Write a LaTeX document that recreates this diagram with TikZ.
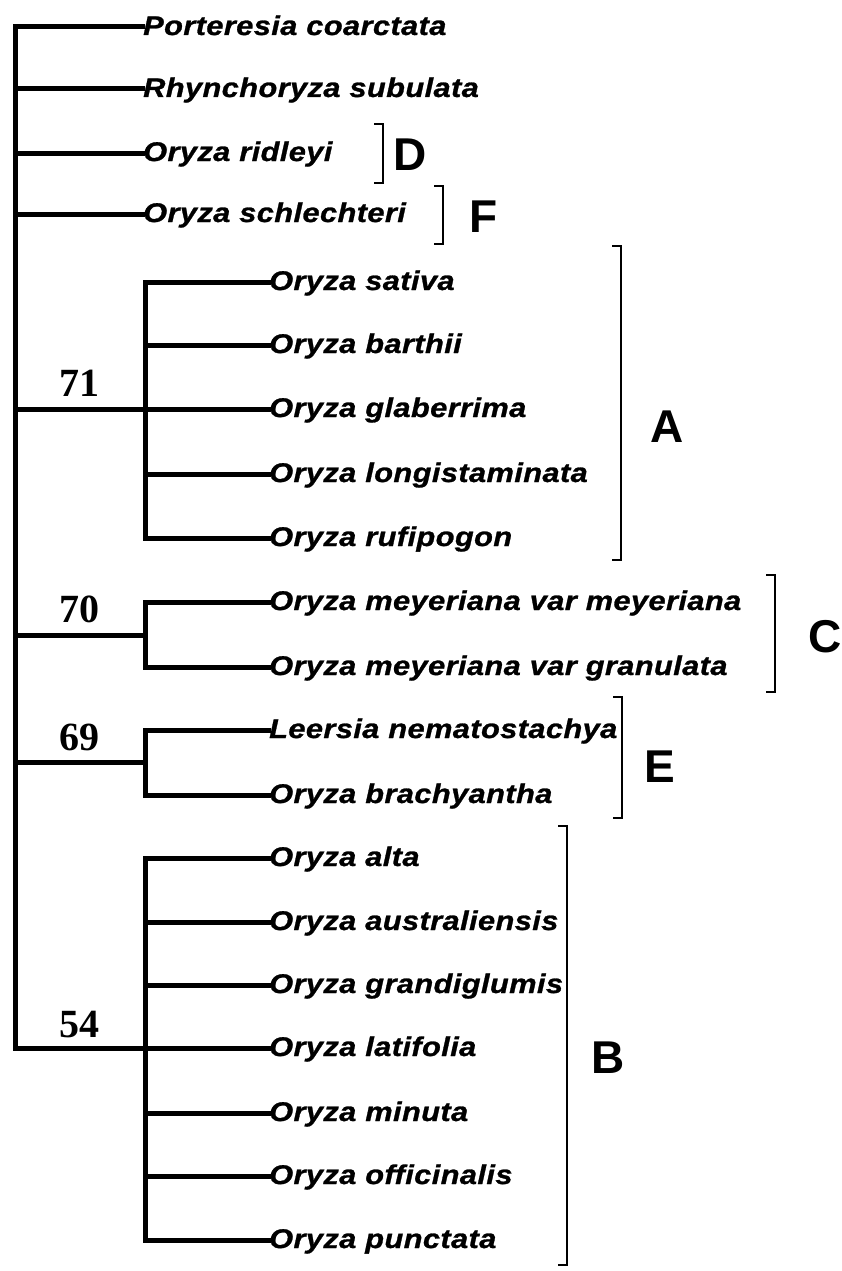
\documentclass[tikz,border=0pt]{standalone}
\usepackage{fontspec}
\setmainfont{Liberation Sans}
\newfontfamily\numfont{Liberation Serif}
\newfontfamily\leaffont{Liberation Sans}[FakeStretch=1.14,LetterSpace=1.5,FakeBold=1]
\begin{document}
\begin{tikzpicture}[x=1pt,y=-1pt,
  tree/.style={line width=5pt,line cap=rect,line join=miter},
  brk/.style={line width=2.8pt,line join=miter},
  leaf/.style={anchor=base west,inner sep=0pt,font=\leaffont\fontsize{27}{27}\selectfont\bfseries\itshape},
  boot/.style={anchor=base,inner sep=0pt,font=\fontsize{40}{40}\selectfont\numfont\bfseries},
  grp/.style={anchor=center,inner sep=0pt,font=\fontsize{46}{46}\selectfont\bfseries}]
\useasboundingbox (0,0) rectangle (841,1271);
% leaves
\foreach \n/\y/\t in {
 1/27/Porteresia coarctata,
 2/89/Rhynchoryza subulata,
 3/153/Oryza ridleyi,
 4/214/Oryza schlechteri,
 5/282/Oryza sativa,
 6/345/Oryza barthii,
 7/409/Oryza glaberrima,
 8/474/Oryza longistaminata,
 9/538/Oryza rufipogon,
 10/602/Oryza meyeriana var meyeriana,
 11/667/Oryza meyeriana var granulata,
 12/730/Leersia nematostachya,
 13/795/Oryza brachyantha,
 14/858/Oryza alta,
 15/922/Oryza australiensis,
 16/985/Oryza grandiglumis,
 17/1048/Oryza latifolia,
 18/1113/Oryza minuta,
 19/1176/Oryza officinalis,
 20/1240/Oryza punctata}{
 \ifnum\n<5 \coordinate (t\n) at (142,\y); \else \coordinate (t\n) at (268,\y); \fi
 \node[leaf] (l\n) at ([shift={(1,8)}]t\n) {\t};
}
% internal nodes
\coordinate (roottop) at (15,27);
\coordinate (root) at (15,1048);
\coordinate (nA) at (145,409);
\coordinate (nC) at (145,635);
\coordinate (nE) at (145,762);
\coordinate (nB) at (145,1048);
% root
\draw[tree] (t1) -- (roottop) -- (root) -- (nB);
\foreach \k in {2,3,4}{\draw[tree] (roottop |- t\k) -- (t\k);}
\draw[tree] (root |- nA) -- (nA);
\draw[tree] (root |- nC) -- (nC);
\draw[tree] (root |- nE) -- (nE);
% clade A
\draw[tree] (t5) -- (nA |- t5) -- (nA |- t9) -- (t9);
\foreach \k in {6,7,8}{\draw[tree] (nA |- t\k) -- (t\k);}
% clade C
\draw[tree] (t10) -- (nC |- t10) -- (nC |- t11) -- (t11);
% clade E
\draw[tree] (t12) -- (nE |- t12) -- (nE |- t13) -- (t13);
% clade B
\draw[tree] (t14) -- (nB |- t14) -- (nB |- t20) -- (t20);
\foreach \k in {15,16,17,18,19}{\draw[tree] (nB |- t\k) -- (t\k);}
% bootstrap values
\node[boot] (b71) at (79,396) {71};
\node[boot] (b70) at (79,622) {70};
\node[boot] (b69) at (79,750) {69};
\node[boot] (b54) at (79,1037) {54};
% brackets
\draw[brk] (374,124) -- (383,124) -- (383,183) -- (374,183);
\draw[brk] (434,186) -- (443,186) -- (443,244) -- (434,244);
\draw[brk] (612,246) -- (621,246) -- (621,560) -- (612,560);
\draw[brk] (766,575) -- (775,575) -- (775,692) -- (766,692);
\draw[brk] (613,697) -- (622,697) -- (622,818) -- (613,818);
\draw[brk] (558,826) -- (567,826) -- (567,1265) -- (558,1265);
% group labels
\node[grp] (gD) at (410,155) {D};
\node[grp] (gF) at (484,217) {F};
\node[grp] (gA) at (667,427) {A};
\node[grp] (gC) at (825,637) {C};
\node[grp] (gE) at (660,767) {E};
\node[grp] (gB) at (608,1058) {B};
\end{tikzpicture}
\end{document}
